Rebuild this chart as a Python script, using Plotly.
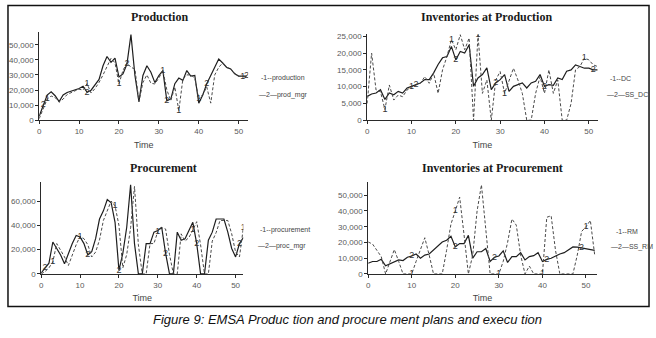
import plotly.graph_objects as go

# ---------------- data ----------------
time = list(range(53))

production = [1000, 7000, 14000, 16000, 15000, 12000, 14000, 17000, 18500, 19500,
              20500, 20000, 24200, 18000, 21000, 25000, 30000, 36000, 41000, 38000,
              24000, 33000, 38000, 35000, 34000, 12300, 25000, 30000, 24500, 24000,
              28000, 33000, 20000, 13000, 22000, 6300, 27000, 30000, 30000, 28000,
              14000, 17000, 22000, 11300, 30000, 35000, 38000, 35000, 34000, 31000,
              29000, 29000, 29000]
prod_mgr = [2600, 10000, 16700, 18800, 16200, 12300, 16700, 18400, 19300, 19700,
            21000, 22500, 18500, 19900, 23200, 27000, 36100, 42200, 38300, 41100,
            28600, 30700, 37200, 56700, 29600, 12300, 29600, 36100, 31800, 24900,
            29600, 32900, 12800, 14100, 24200, 27900, 26400, 32900, 29200, 29600,
            11300, 16700, 24200, 29600, 35000, 40500, 37900, 35000, 34000, 30700,
            29200, 29200, 29200]

dc = [5000, 20000, 9000, 8500, 3200, 10500, 6000, 7500, 7000, 9000,
      10000, 10500, 11000, 13000, 11000, 14000, 8000, 15000, 19000, 24000,
      21000, 25500, 21000, 24500, 0, 25500, 8000, 12000, 0, 12000,
      14500, 8000, 12000, 15500, 12000, 8000, 0, 0, 8000, 13000,
      8000, 15000, 8000, 12000, 0, 0, 5000, 15000, 16000, 18500,
      18000, 16500, 16000]
ss_dc = [7100, 7800, 8100, 9100, 6200, 8100, 7600, 8600, 8100, 9600,
         10100, 10600, 11100, 12100, 12100, 14100, 16600, 18600, 19000, 22000,
         18000, 20500, 20000, 22500, 10100, 12600, 13600, 15600, 9100, 11100,
         12100, 13600, 8600, 10100, 10600, 11100, 9600, 11100, 11600, 13600,
         10100, 10600, 10400, 12600, 12100, 14600, 15000, 16500, 16000, 15500,
         15500, 15000, 15000]

procurement = [0, 2000, 5000, 10000, 25000, 20000, 14000, 7000, 16000, 24000,
               31000, 29000, 24000, 14000, 18000, 28000, 44000, 52000, 60000, 56000,
               40000, 5000, 16000, 38000, 72000, 24000, 0, 0, 25000, 25000,
               35000, 38000, 37000, 16000, 0, 0, 33000, 27000, 30000, 36000,
               43000, 24000, 0, 0, 27000, 34000, 44000, 44000, 44000, 33000,
               18000, 14000, 38000]
proc_mgr = [800, 4800, 8900, 26300, 21000, 15600, 8300, 16900, 25000, 31700,
            30400, 25000, 15600, 18300, 29000, 45200, 51900, 61300, 58600, 42500,
            3000, 17000, 38400, 73400, 25000, 0, 0, 25000, 25000, 34400,
            35800, 38400, 17000, 0, 0, 34400, 27700, 29000, 35800, 42500,
            25000, 0, 0, 27700, 34400, 45200, 45200, 45200, 34400, 21000,
            14000, 25000, 30000]

rm = [20300, 19000, 15000, 11000, 0, 8000, 15500, 8000, 0, 0,
      0, 8000, 16000, 23000, 12000, 0, 0, 0, 15000, 31700,
      40000, 48800, 25000, 0, 12000, 40000, 56600, 30000, 0, 0,
      0, 8000, 20000, 34900, 31000, 12000, 0, 5000, 0, 0,
      0, 36000, 37000, 15000, 0, 0, 0, 0, 12000, 27000,
      30000, 34000, 12000]
ss_rm = [6800, 7900, 7900, 9300, 5200, 6400, 7900, 8900, 8500, 10600,
         11400, 12700, 10000, 12000, 12700, 15100, 17600, 20300, 21400, 23900,
         17200, 19300, 19300, 24500, 10000, 14100, 14100, 16200, 7900, 10600,
         11400, 14700, 7300, 11000, 11000, 13500, 8900, 11000, 11600, 13500,
         7900, 9300, 10000, 11600, 12700, 13500, 15100, 17200, 17000, 16500,
         16000, 15500, 15000]

# time indices where the Vensim-style series numbers sit on the curves
labels_1 = {"production": [2, 12, 20, 31, 35, 40, 51],
            "DC": [4, 10, 19, 25, 31, 49],
            "procurement": [3, 10, 19, 30, 39, 52],
            "RM": [10, 20, 30, 40, 50]}
labels_2 = {"prod_mgr": [1, 12, 22, 32, 42, 52],
            "SS_DC": [11, 20, 29, 40, 51],
            "proc_mgr": [1, 12, 20, 32, 40, 51],
            "SS_RM": [10, 20, 29, 41, 49]}

# ---------------- layout helpers ----------------
W, H = 656, 338


def fx(p):
    return p / W


def fy(p):
    return 1 - p / H


SOLID = "#1e1e1e"
DASH = "#4a4a4a"
TICKC = "#5a5a5a"

fig = go.Figure()

panels = [
    ("x", "y", production, "production", prod_mgr, "prod_mgr"),
    ("x2", "y2", dc, "DC", ss_dc, "SS_DC"),
    ("x3", "y3", procurement, "procurement", proc_mgr, "proc_mgr"),
    ("x4", "y4", rm, "RM", ss_rm, "SS_RM"),
]

for xa, ya, s1, n1, s2, n2 in panels:
    fig.add_trace(go.Scatter(x=time, y=s2, mode="lines", name=n2, xaxis=xa, yaxis=ya,
                             line=dict(color=SOLID, width=1.2), showlegend=False))
    fig.add_trace(go.Scatter(x=time, y=s1, mode="lines", name=n1, xaxis=xa, yaxis=ya,
                             line=dict(color=DASH, width=1, dash="3px,2px"), showlegend=False))
    idx1 = labels_1[n1]
    idx2 = labels_2[n2]
    fig.add_trace(go.Scatter(x=[time[i] for i in idx1], y=[s1[i] for i in idx1],
                             mode="text", text=["1"] * len(idx1), xaxis=xa, yaxis=ya,
                             textfont=dict(size=9, color="#333", family="Liberation Sans"),
                             showlegend=False, hoverinfo="skip"))
    fig.add_trace(go.Scatter(x=[time[i] for i in idx2], y=[s2[i] for i in idx2],
                             mode="text", text=["2"] * len(idx2), xaxis=xa, yaxis=ya,
                             textfont=dict(size=9, color="#333", family="Liberation Sans"),
                             showlegend=False, hoverinfo="skip"))

axis_common = dict(showline=True, linecolor="#2a2a2a", linewidth=1, ticks="outside",
                   ticklen=3, tickcolor="#2a2a2a", showgrid=False, zeroline=False,
                   tickfont=dict(size=8, color=TICKC, family="Liberation Sans"))

# panel geometry in pixels: (x0px, x1px, xmax, ybottom_px, ytop_px, ymax, dtick)
geo = {
    "": (37.3, 247.0, 52.4, 120.7, 31.0, 58200, 10000),
    "2": (366.3, 597.5, 52.0, 120.7, 33.0, 25600, 5000),
    "3": (39.3, 242.1, 52.0, 277.7, 184.0, 75500, 20000),
    "4": (367.3, 596.7, 52.5, 277.7, 184.0, 58300, 10000),
}

layout = dict(width=W, height=H, margin=dict(l=0, r=0, t=0, b=0),
              paper_bgcolor="white", plot_bgcolor="white", showlegend=False,
              hovermode=False)

for k, (x0, x1, xmax, yb, yt, ymax, dt) in geo.items():
    layout["xaxis" + k] = dict(axis_common, domain=[fx(x0), fx(x1)], range=[0, xmax],
                               dtick=10, tick0=0, anchor="y" + k,
                               title=dict(text="Time", standoff=6,
                                          font=dict(size=9, color="#444", family="Liberation Sans")))
    layout["yaxis" + k] = dict(axis_common, domain=[fy(yb), fy(yt)], range=[0, ymax],
                               dtick=dt, tick0=0, tickformat=",d", anchor="x" + k)

fig.update_layout(**layout)

# titles
titles = [("Production", 158, 15), ("Inventories at Production", 486, 15),
          ("Procurement", 162, 169), ("Inventories at Procurement", 492, 170)]
for t, cx, cy in titles:
    fig.add_annotation(text="<b>" + t + "</b>", x=fx(cx), y=fy(cy), xref="paper", yref="paper",
                       showarrow=False, xanchor="center", yanchor="middle",
                       font=dict(family="Liberation Serif", size=12, color="#1a1a1a"))

# Vensim-style legends (series number drawn on a short line sample)
legends = [
    ("-1--production", 258, 78), ("—2—prod_mgr", 256, 95),
    ("-1--DC", 608, 78), ("—2—SS_DC", 605, 95),
    ("-1--procurement", 257, 233), ("—2—proc_mgr", 255, 249),
    ("-1--RM", 614, 234), ("—2—SS_RM", 609, 250),
]
for t, lx, ly in legends:
    fig.add_annotation(text=t, x=fx(lx), y=fy(ly), xref="paper", yref="paper",
                       showarrow=False, xanchor="left", yanchor="middle",
                       font=dict(family="Liberation Sans", size=7, color="#444"))

# outer frame
fig.add_shape(type="rect", xref="paper", yref="paper", x0=fx(6), x1=fx(649), y0=fy(311), y1=fy(3.5),
              line=dict(color="#111", width=1.5))

# caption
fig.add_annotation(text="<i>Figure 9: EMSA Produc tion and procure ment plans and execu tion</i>",
                   x=fx(347), y=fy(324), xref="paper", yref="paper", showarrow=False,
                   xanchor="center", yanchor="middle",
                   font=dict(family="Liberation Sans", size=13, color="#111"))

fig.write_html("out.html", config={"displayModeBar": False, "staticPlot": True},
               post_script="document.body.style.margin='0';document.body.style.overflow='hidden';")
